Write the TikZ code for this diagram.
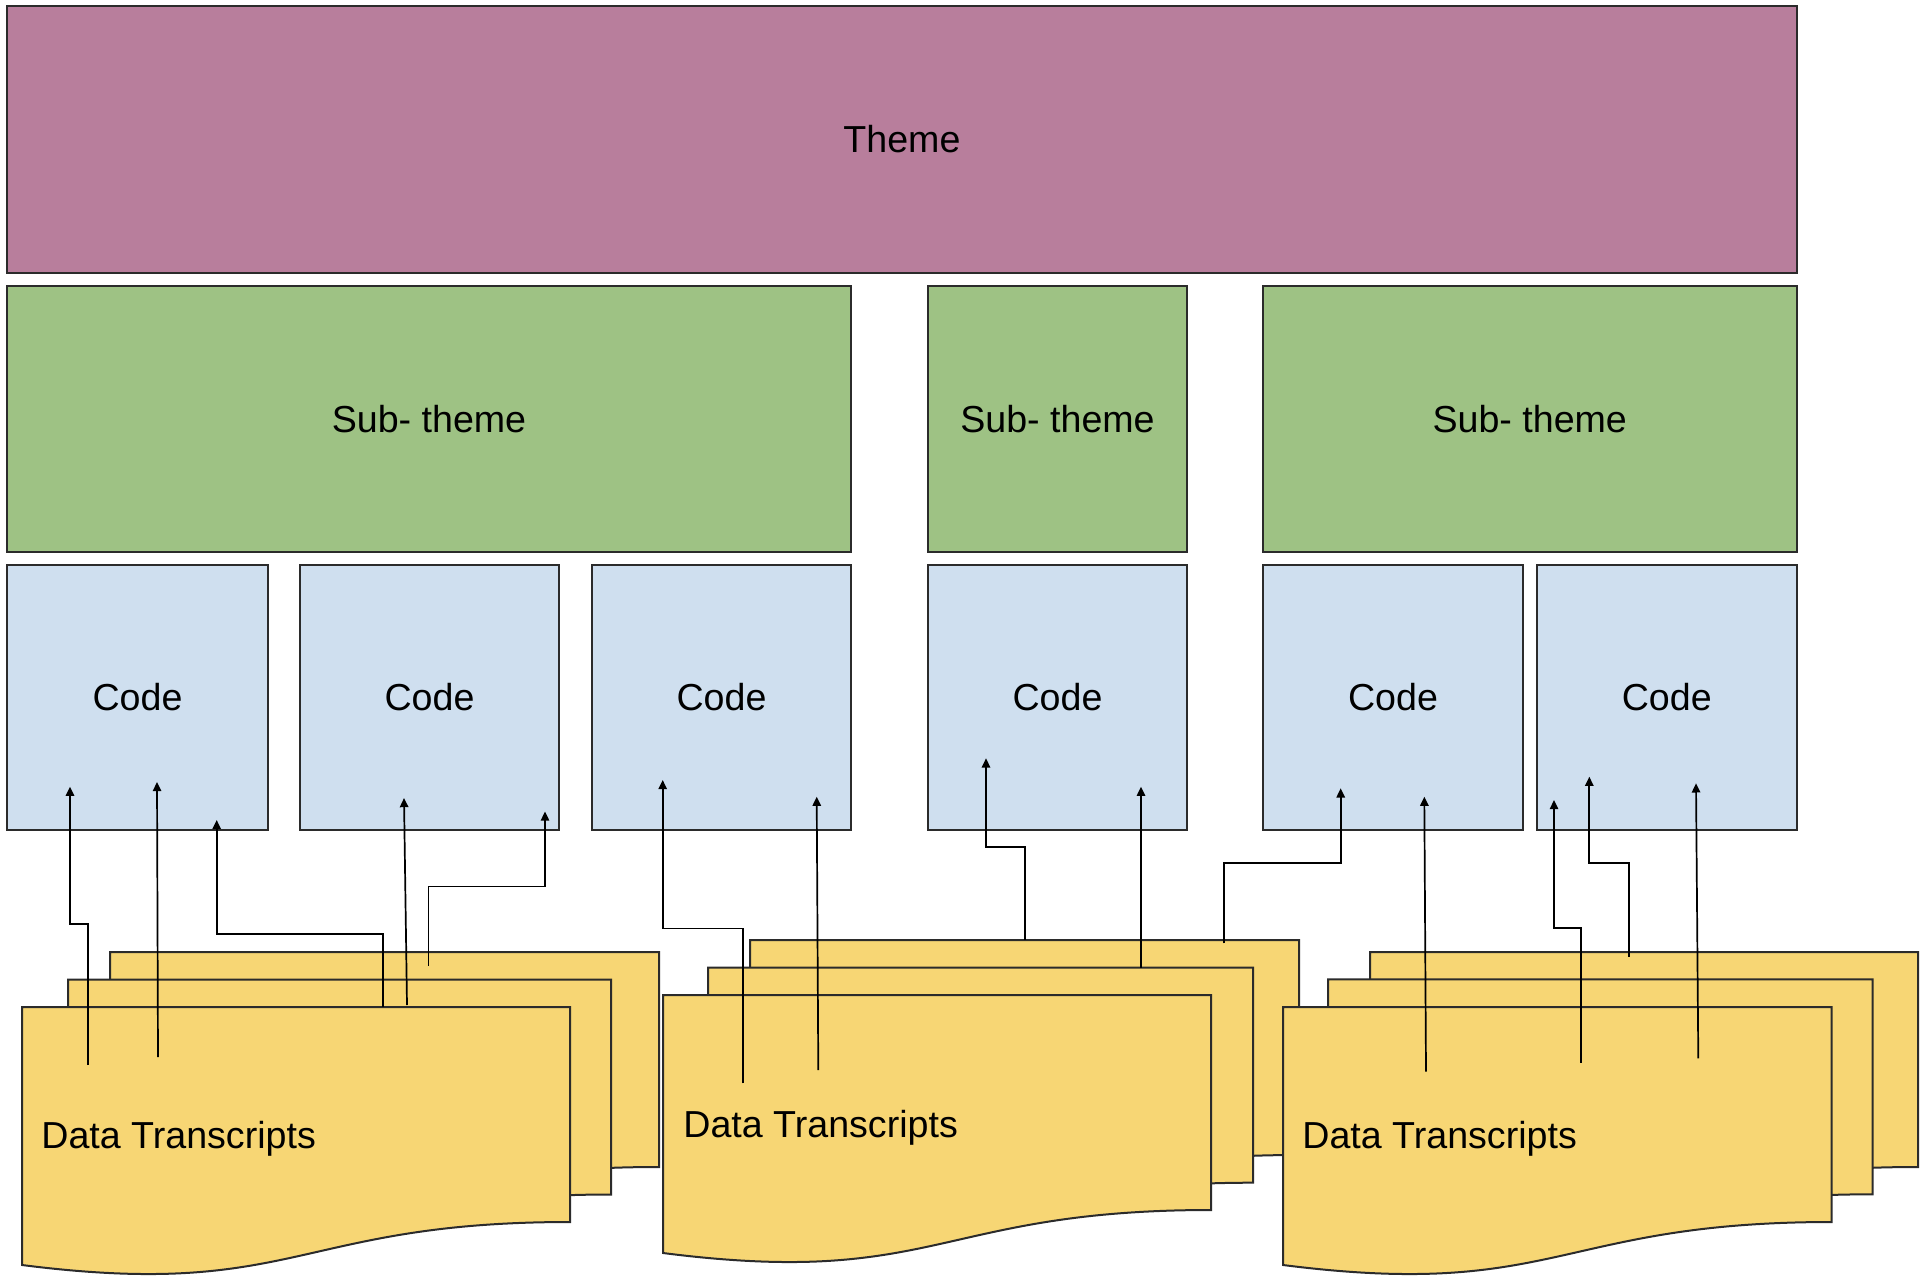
\documentclass[tikz,border=0pt]{standalone}
\usepackage{fontspec}
\setmainfont{Liberation Sans}
\usetikzlibrary{arrows.meta}
\definecolor{themec}{HTML}{B87E9C}
\definecolor{subc}{HTML}{9EC284}
\definecolor{codec}{HTML}{CFDFEF}
\definecolor{docc}{HTML}{F7D674}
\definecolor{edgec}{HTML}{2B2B2B}
\newcommand{\docsheet}[3]{%
  \draw[sheet] (#1,#2) -- ({#1+#3},#2) -- ({#1+#3},{#2+215})
    .. controls ({#1+#3/2},{#2+215}) and ({#1+#3/2},{#2+293}) .. (#1,{#2+258}) -- cycle;}
\begin{document}
\begin{tikzpicture}[x=0.5pt,y=-0.5pt,
  box/.style={draw=edgec, line width=1pt, inner sep=0pt, anchor=center, font=\fontsize{18.8}{22}\selectfont},
  themebox/.style={box, fill=themec, minimum width=894.6pt, minimum height=133.5pt},
  subbox/.style={box, fill=subc, minimum height=132.75pt},
  codebox/.style={box, fill=codec, minimum height=132.5pt},
  sheet/.style={draw=edgec, line width=1pt, fill=docc},
  conn/.style={draw=black, line width=0.85pt, -{Triangle[length=4.6pt,width=4.2pt]}},
  lbl/.style={inner sep=0pt, anchor=base west, font=\fontsize{18.8}{22}\selectfont}]
\useasboundingbox (0,0) rectangle (1921,1278);

% theme and sub-themes
\node[themebox] (theme) at (901.9,139.5) {Theme};
\node[subbox, minimum width=422pt]    (st1) at (429,419.25)    {Sub- theme};
\node[subbox, minimum width=129.5pt]  (st2) at (1057.5,419.25) {Sub- theme};
\node[subbox, minimum width=266.75pt] (st3) at (1529.75,419.25) {Sub- theme};

% codes
\node[codebox, minimum width=130.5pt]  (code1) at (137.5,697)  {Code};
\node[codebox, minimum width=129.5pt]  (code2) at (429.5,697)  {Code};
\node[codebox, minimum width=129.5pt]  (code3) at (721.5,697)  {Code};
\node[codebox, minimum width=129.5pt]  (code4) at (1057.5,697) {Code};
\node[codebox, minimum width=130pt]    (code5) at (1393,697)   {Code};
\node[codebox, minimum width=129.75pt] (code6) at (1666.75,697) {Code};

% data transcripts (stacked documents)
\docsheet{110}{952}{549}
\docsheet{68}{979.5}{543}
\docsheet{22}{1007}{548}
\node[lbl] (dt1) at (41,1148.5) {Data Transcripts};

\docsheet{750}{940}{549}
\docsheet{708}{967.7}{545}
\docsheet{663}{995}{548}
\node[lbl] (dt2) at (683,1137) {Data Transcripts};

\docsheet{1370}{952}{548}
\docsheet{1328}{979.3}{544.5}
\docsheet{1283}{1007}{548.7}
\node[lbl] (dt3) at (1302,1148.5) {Data Transcripts};

% connector end points
\coordinate (aS) at (87.7,1065);   \coordinate (aE) at (70,786.7);
\coordinate (bS) at (158,1057);    \coordinate (bE) at (157,782);
\coordinate (cS) at (382.7,1006.7);\coordinate (cE) at (216.7,820);
\coordinate (dS) at (407,1005);    \coordinate (dE) at (404,798);
\coordinate (eS) at (428.5,966);   \coordinate (eE) at (545,811.5);
\coordinate (fS) at (743.3,1083.3);\coordinate (fE) at (662.7,780);
\coordinate (gS) at (818.3,1070);  \coordinate (gE) at (816.7,796.7);
\coordinate (hS) at (1025,939.5);  \coordinate (hE) at (986,758.3);
\coordinate (iS) at (1141,967.7);  \coordinate (iE) at (1141,786.7);
\coordinate (jS) at (1224.3,943.3);\coordinate (jE) at (1340.7,788.3);
\coordinate (kS) at (1426,1071.7); \coordinate (kE) at (1424.3,796.7);
\coordinate (lS) at (1580.7,1062.7);\coordinate (lE) at (1554,800);
\coordinate (mS) at (1629.3,956.7);\coordinate (mE) at (1589.3,776.7);
\coordinate (nS) at (1698.3,1058.3);\coordinate (nE) at (1696,783.3);

% connectors
\draw[conn] (aS) -- (87.7,924) -| (aE);
\draw[conn] (bS) -- (bE);
\draw[conn] (cS) -- (382.7,934) -| (cE);
\draw[conn] (dS) -- (dE);
\draw[conn] (eS) -- (428.5,886.5) -| (eE);
\draw[conn] (fS) -- (743.3,928.5) -| (fE);
\draw[conn] (gS) -- (gE);
\draw[conn] (hS) -- (1025,846.7) -| (hE);
\draw[conn] (iS) -- (iE);
\draw[conn] (jS) -- (1224.3,863.3) -| (jE);
\draw[conn] (kS) -- (kE);
\draw[conn] (lS) -- (1580.7,928.3) -| (lE);
\draw[conn] (mS) -- (1629.3,863.3) -| (mE);
\draw[conn] (nS) -- (nE);
\end{tikzpicture}
\end{document}
